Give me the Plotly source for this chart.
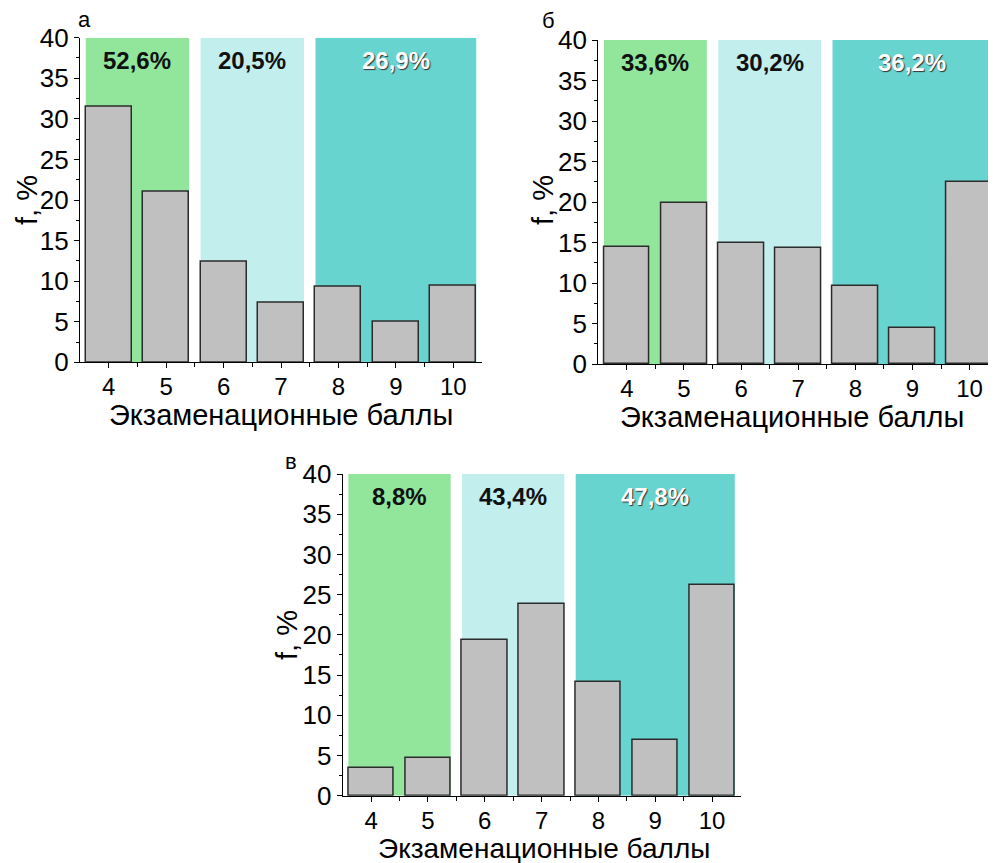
import plotly.graph_objects as go

# ---- data ----
scores = [4, 5, 6, 7, 8, 9, 10]
f_a = [31.5, 21.0, 12.4, 7.3, 9.3, 5.0, 9.4]
f_b = [14.4, 19.9, 15.0, 14.3, 9.6, 4.5, 22.5]
f_v = [3.5, 4.7, 19.4, 23.8, 14.1, 6.9, 26.2]
groups = [[4, 5], [6, 7], [8, 9, 10]]
pct_a = ["52,6%", "20,5%", "26,9%"]
pct_b = ["33,6%", "30,2%", "36,2%"]
pct_v = ["8,8%", "43,4%", "47,8%"]
panel_letters = ["а", "б", "в"]
x_title = "Экзаменационные баллы"
y_title = "f, %"

band_colors = ["#92E69C", "#C2EEEE", "#68D4D0"]
label_colors = ["#111111", "#111111", "#FFFFFF"]
BAR_W = 0.8
FONT = "Liberation Sans, Arial, sans-serif"

W, H = 996, 863
OFF = 8  # page body margin


def fx(px):
    return (px - OFF) / W


def fy(py):
    return 1 - (py - OFF) / H


panels = [
    dict(vals=f_a, pct=pct_a, xd=[fx(80), fx(482)], yd=[fy(362.3), fy(37.7)], xr=[3.5, 10.5],
         letter=(84, 20), xt=(281, 415), yt=(27, 200), xts=29),
    dict(vals=f_b, pct=pct_b, xd=[fx(598.3), fx(995.3)], yd=[fy(364), fy(40)], xr=[3.5, 10.45],
         letter=(548, 21), xt=(792, 417), yt=(543, 200), xts=29),
    dict(vals=f_v, pct=pct_v, xd=[fx(342.7), fx(740.5)], yd=[fy(795.7), fy(474)], xr=[3.5, 10.5],
         letter=(291, 461), xt=(544, 848), yt=(287, 635), xts=28),
]

fig = go.Figure()
shapes = []
annotations = []

for i, p in enumerate(panels):
    sfx = "" if i == 0 else str(i + 1)
    xa, ya = "x" + sfx, "y" + sfx
    fig.add_trace(go.Bar(
        x=scores, y=p["vals"], width=BAR_W, xaxis=xa, yaxis=ya,
        marker=dict(color="#C0C0C0", line=dict(color="#2b2b2b", width=1.5)),
        showlegend=False, hoverinfo="x+y",
    ))
    for g, grp in enumerate(groups):
        x0 = min(grp) - BAR_W / 2
        x1 = max(grp) + BAR_W / 2
        shapes.append(dict(type="rect", xref=xa, yref=ya, x0=x0, x1=x1, y0=0, y1=40,
                           fillcolor=band_colors[g], line=dict(width=0), layer="below"))
        fnt = dict(family=FONT, size=24, color=label_colors[g], weight="bold")
        if g == 2:
            fnt["shadow"] = "1px 1px 1px #333333"
        annotations.append(dict(xref=xa, yref=ya, x=(min(grp) + max(grp)) / 2, y=37.2,
                                text=p["pct"][g], showarrow=False, font=fnt,
                                xanchor="center", yanchor="middle"))
    lx, ly = p["letter"]
    annotations.append(dict(xref="paper", yref="paper", x=fx(lx), y=fy(ly),
                            text=panel_letters[i], showarrow=False,
                            font=dict(family=FONT, size=22, color="black"),
                            xanchor="center", yanchor="middle"))
    tx, ty = p["xt"]
    annotations.append(dict(xref="paper", yref="paper", x=fx(tx), y=fy(ty),
                            text=x_title, showarrow=False,
                            font=dict(family=FONT, size=p["xts"], color="black"),
                            xanchor="center", yanchor="middle"))
    tx, ty = p["yt"]
    annotations.append(dict(xref="paper", yref="paper", x=fx(tx), y=fy(ty),
                            text=y_title, showarrow=False, textangle=-90,
                            font=dict(family=FONT, size=29, color="black"),
                            xanchor="center", yanchor="middle"))
    axis_common = dict(showline=True, linecolor="black", linewidth=1.2, showgrid=False,
                       zeroline=False, ticks="outside", tickcolor="black", ticklen=5,
                       tickwidth=1.2, automargin=False)
    fig.layout["xaxis" + sfx] = dict(
        **axis_common, domain=p["xd"], range=p["xr"], anchor=ya,
        tickmode="array", tickvals=scores, ticktext=[str(s) for s in scores],
        tickfont=dict(family=FONT, size=24, color="black"), ticklabelstandoff=-2,
        minor=dict(ticks="outside", ticklen=4, tickcolor="black", tickvals=[s + 0.5 for s in scores[:-1]]),
    )
    fig.layout["yaxis" + sfx] = dict(
        **axis_common, domain=p["yd"], range=[0, 40], anchor=xa,
        tickmode="linear", tick0=0, dtick=5,
        tickfont=dict(family=FONT, size=26, color="black"),
        minor=dict(ticks="outside", ticklen=3, tickcolor="black", dtick=2.5, tick0=0),
    )

fig.update_layout(
    width=W, height=H, margin=dict(l=0, r=0, t=0, b=0),
    paper_bgcolor="white", plot_bgcolor="rgba(0,0,0,0)",
    shapes=shapes, annotations=annotations, bargap=0,
)
fig.write_html("out.html")
